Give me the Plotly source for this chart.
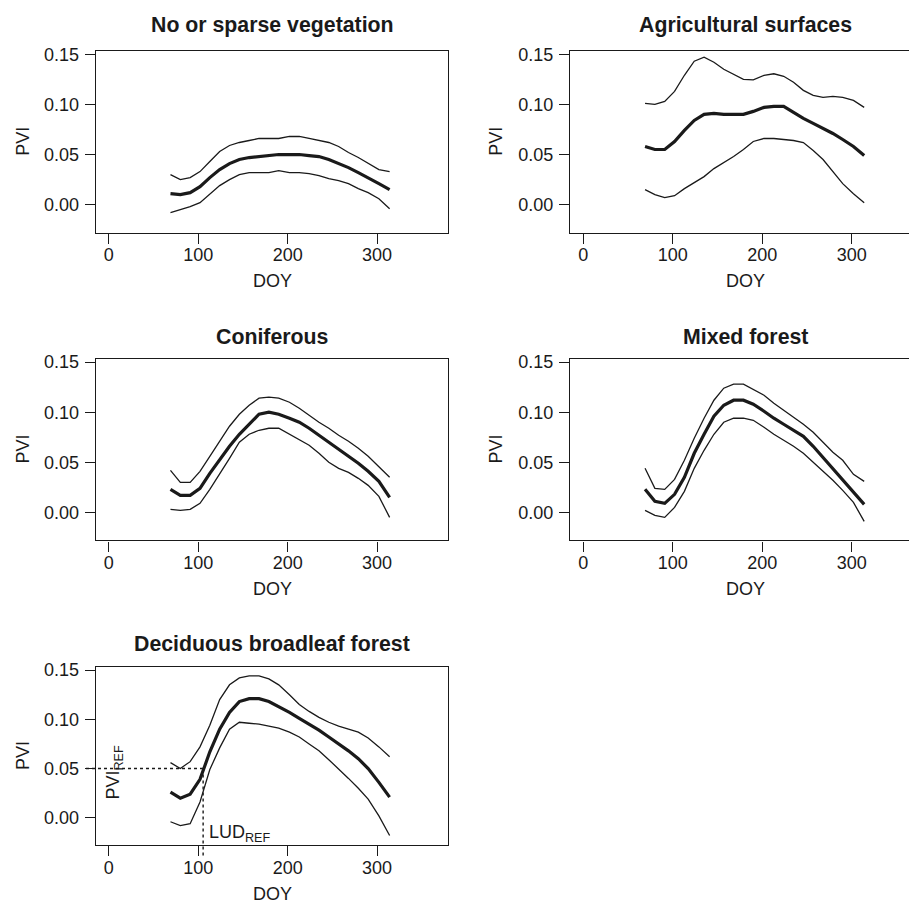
import plotly.graph_objects as go

# ---- data ----
DOY = [69, 80, 91, 102, 113, 124, 135, 146, 157, 168, 179, 190,
       202, 213, 224, 235, 246, 257, 268, 279, 290, 302, 314]

titles = ["No or sparse vegetation", "Agricultural surfaces", "Coniferous",
          "Mixed forest", "Deciduous broadleaf forest"]

sparse_low = [-0.008, -0.005, -0.002, 0.002, 0.011, 0.019, 0.025, 0.030, 0.032, 0.032, 0.032, 0.034,
              0.032, 0.032, 0.031, 0.029, 0.026, 0.024, 0.021, 0.016, 0.012, 0.006, -0.004]
sparse_mid = [0.011, 0.010, 0.012, 0.018, 0.027, 0.035, 0.041, 0.045, 0.047, 0.048, 0.049, 0.050,
              0.050, 0.050, 0.049, 0.048, 0.045, 0.041, 0.037, 0.032, 0.027, 0.021, 0.015]
sparse_up = [0.030, 0.025, 0.027, 0.033, 0.043, 0.053, 0.059, 0.062, 0.064, 0.066, 0.066, 0.066,
             0.068, 0.068, 0.066, 0.064, 0.062, 0.058, 0.052, 0.047, 0.041, 0.035, 0.033]

agri_low = [0.015, 0.010, 0.007, 0.009, 0.016, 0.022, 0.028, 0.036, 0.042, 0.048, 0.055, 0.063,
            0.066, 0.066, 0.065, 0.064, 0.062, 0.054, 0.045, 0.033, 0.021, 0.011, 0.002]
agri_mid = [0.058, 0.055, 0.055, 0.063, 0.074, 0.084, 0.090, 0.091, 0.090, 0.090, 0.090, 0.093,
            0.097, 0.098, 0.098, 0.092, 0.086, 0.081, 0.076, 0.071, 0.065, 0.058, 0.049]
agri_up = [0.101, 0.100, 0.103, 0.113, 0.129, 0.143, 0.147, 0.142, 0.135, 0.130, 0.125, 0.1245,
           0.129, 0.1305, 0.128, 0.122, 0.114, 0.109, 0.107, 0.108, 0.107, 0.104, 0.097]

conif_low = [0.003, 0.002, 0.003, 0.009, 0.023, 0.038, 0.054, 0.070, 0.078, 0.082, 0.084, 0.084,
             0.078, 0.073, 0.067, 0.059, 0.050, 0.044, 0.040, 0.034, 0.027, 0.016, -0.005]
conif_mid = [0.023, 0.017, 0.017, 0.024, 0.039, 0.053, 0.066, 0.078, 0.088, 0.098, 0.100, 0.098,
             0.094, 0.090, 0.084, 0.077, 0.070, 0.063, 0.056, 0.049, 0.041, 0.031, 0.015]
conif_up = [0.042, 0.030, 0.030, 0.041, 0.056, 0.071, 0.086, 0.098, 0.107, 0.114, 0.115, 0.114,
            0.110, 0.104, 0.097, 0.090, 0.084, 0.077, 0.071, 0.064, 0.056, 0.046, 0.035]

mixed_low = [0.002, -0.003, -0.005, 0.005, 0.021, 0.044, 0.062, 0.078, 0.090, 0.094, 0.094, 0.092,
             0.085, 0.078, 0.072, 0.066, 0.059, 0.050, 0.041, 0.032, 0.022, 0.010, -0.009]
mixed_mid = [0.023, 0.011, 0.009, 0.018, 0.035, 0.059, 0.078, 0.096, 0.107, 0.112, 0.112, 0.108,
             0.101, 0.094, 0.088, 0.082, 0.076, 0.066, 0.055, 0.044, 0.033, 0.021, 0.008]
mixed_up = [0.044, 0.024, 0.023, 0.033, 0.052, 0.074, 0.094, 0.112, 0.124, 0.128, 0.128, 0.123,
            0.117, 0.109, 0.102, 0.095, 0.088, 0.080, 0.070, 0.060, 0.052, 0.038, 0.031]

decid_low = [-0.004, -0.008, -0.006, 0.016, 0.049, 0.071, 0.090, 0.097, 0.096, 0.095, 0.093, 0.091,
             0.087, 0.082, 0.075, 0.068, 0.059, 0.050, 0.040, 0.030, 0.019, 0.002, -0.018]
decid_mid = [0.026, 0.020, 0.024, 0.039, 0.067, 0.090, 0.107, 0.118, 0.121, 0.121, 0.118, 0.113,
             0.107, 0.101, 0.095, 0.089, 0.082, 0.075, 0.068, 0.060, 0.050, 0.036, 0.021]
decid_up = [0.056, 0.050, 0.057, 0.072, 0.094, 0.120, 0.135, 0.142, 0.144, 0.144, 0.141, 0.135,
            0.125, 0.115, 0.108, 0.102, 0.097, 0.093, 0.090, 0.087, 0.081, 0.072, 0.062]

PVI_REF = 0.05
LUD_REF = 105.5

x_ticks = [0, 100, 200, 300]
y_ticks = [0.0, 0.05, 0.10, 0.15]
y_ticktext = ["0.00", "0.05", "0.10", "0.15"]

panels = [
    (titles[0], sparse_low, sparse_mid, sparse_up),
    (titles[1], agri_low, agri_mid, agri_up),
    (titles[2], conif_low, conif_mid, conif_up),
    (titles[3], mixed_low, mixed_mid, mixed_up),
    (titles[4], decid_low, decid_mid, decid_up),
]

# ---- layout geometry (pixels of a 909x905 canvas) ----
W, H = 909, 905
col_px = [(95.7, 448.3), (570.0, 909.0)]
col_xrange = [[-14.6, 379.6], [-14.9, 364.1]]
col_center_px = [272.0, 745.0]
col_pvi_px = [23.0, 496.0]
row_px = [(45.0, 228.3), (355.0, 538.0), (665.0, 845.0)]
row_title_px = [19.0, 333.0, 642.7]
YR = [-0.028, 0.1535]

FONT = "Liberation Sans, Arial, Helvetica, sans-serif"
INK = "#1a1a1a"
FS = 18

fig = go.Figure()
layout = dict(
    width=W, height=H, margin=dict(l=0, r=0, t=0, b=0),
    paper_bgcolor="white", plot_bgcolor="white", showlegend=False,
    font=dict(family=FONT, size=FS, color=INK),
)
annotations = []
shapes = []

for i, (title, low, mid, up) in enumerate(panels):
    r, c = divmod(i, 2)
    n = i + 1
    xa = "x" if n == 1 else f"x{n}"
    ya = "y" if n == 1 else f"y{n}"
    xl, xr = col_px[c]
    yt, yb = row_px[r]
    for vals, w in ((low, 1.3), (up, 1.3), (mid, 3.2)):
        fig.add_trace(go.Scatter(x=DOY, y=vals, mode="lines", xaxis=xa, yaxis=ya,
                                 line=dict(color=INK, width=w), hoverinfo="skip"))
    layout["xaxis" if n == 1 else f"xaxis{n}"] = dict(
        domain=[xl / W, xr / W], range=col_xrange[c], anchor=ya,
        tickvals=x_ticks, ticks="outside", ticklen=10, tickwidth=1.2, tickcolor=INK,
        showline=True, linecolor=INK, linewidth=1.2, mirror=True,
        showgrid=False, zeroline=False, tickfont=dict(size=FS, color=INK),
        ticklabelstandoff=-4, fixedrange=True,
    )
    layout["yaxis" if n == 1 else f"yaxis{n}"] = dict(
        domain=[1 - yb / H, 1 - yt / H], range=YR, anchor=xa,
        tickvals=y_ticks, ticktext=y_ticktext, ticks="outside", ticklen=10,
        tickwidth=1.2, tickcolor=INK,
        showline=True, linecolor=INK, linewidth=1.2, mirror=(c == 0),
        showgrid=False, zeroline=False, tickfont=dict(size=FS, color=INK),
        ticklabelstandoff=2, fixedrange=True,
    )
    # panel title
    annotations.append(dict(text=f"<b>{title}</b>", x=col_center_px[c] / W,
                            y=1 - row_title_px[r] / H, xref="paper", yref="paper",
                            showarrow=False, xanchor="center", yanchor="middle",
                            font=dict(size=21.3, color=INK, family=FONT)))
    # axis titles
    annotations.append(dict(text="DOY", x=col_center_px[c] / W, y=1 - (yb + 49) / H,
                            xref="paper", yref="paper", showarrow=False,
                            xanchor="center", yanchor="middle", font=dict(size=FS, color=INK)))
    annotations.append(dict(text="PVI", x=col_pvi_px[c] / W, y=1 - ((yt + yb) / 2) / H,
                            xref="paper", yref="paper", showarrow=False, textangle=-90,
                            xanchor="center", yanchor="middle", font=dict(size=FS, color=INK)))

# reference markers in the deciduous panel
xr5 = col_xrange[0]
fx = (LUD_REF - xr5[0]) / (xr5[1] - xr5[0])
fy = (PVI_REF - YR[0]) / (YR[1] - YR[0])
box_w = col_px[0][1] - col_px[0][0]
box_h = row_px[2][1] - row_px[2][0]
shapes.append(dict(type="line", xref="x5 domain", yref="y5 domain",
                   x0=(86 - col_px[0][0]) / box_w, x1=fx, y0=fy, y1=fy,
                   line=dict(color=INK, width=1.4, dash="dot")))
shapes.append(dict(type="line", xref="x5 domain", yref="y5 domain",
                   x0=fx, x1=fx, y0=fy, y1=(row_px[2][1] - 858) / box_h,
                   line=dict(color=INK, width=1.4, dash="dot")))
annotations.append(dict(text="PVI<sub>REF</sub>", x=115 / W, y=1 - 771.7 / H,
                        xref="paper", yref="paper", showarrow=False, textangle=-90,
                        xanchor="center", yanchor="middle", font=dict(size=FS, color=INK)))
annotations.append(dict(text="LUD<sub>REF</sub>", x=207 / W, y=1 - 833 / H,
                        xref="paper", yref="paper", showarrow=False,
                        xanchor="left", yanchor="middle", font=dict(size=FS, color=INK)))

layout["annotations"] = annotations
layout["shapes"] = shapes
fig.update_layout(**layout)
fig.write_html("out.html")
